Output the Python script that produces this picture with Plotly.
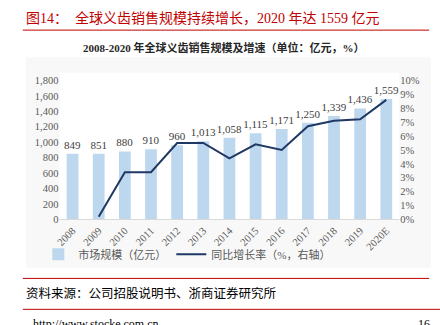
import plotly.graph_objects as go

years = ["2008", "2009", "2010", "2011", "2012", "2013", "2014", "2015",
         "2016", "2017", "2018", "2019", "2020E"]
market_size = [849, 851, 880, 910, 960, 1013, 1058, 1115, 1171, 1250, 1339, 1436, 1559]
growth_years = years[1:]
growth_pct = [0.2, 3.4, 3.4, 5.5, 5.5, 4.4, 5.4, 5.0, 6.7, 7.1, 7.2, 8.6]

W, H = 440, 325
SERIF = "Liberation Serif, Noto Sans CJK SC"
CJK = "Noto Sans CJK SC"

def px(x):
    return x / W

def py(y):
    return 1 - y / H

fig = go.Figure()
fig.add_trace(go.Bar(
    x=years, y=market_size, name="市场规模（亿元）",
    marker=dict(color="#BDD7EE", line=dict(width=0)),
    texttemplate="%{y:,}", textposition="outside", cliponaxis=False,
    constraintext="none",
    textfont=dict(family=SERIF, size=11, color="#404040"),
))
fig.add_trace(go.Scatter(
    x=growth_years, y=growth_pct, name="同比增长率（%，右轴）", yaxis="y2",
    mode="lines", line=dict(color="#203864", width=2),
))

fig.update_layout(
    width=W, height=H, margin=dict(l=0, r=0, t=0, b=0),
    paper_bgcolor="white", plot_bgcolor="white",
    bargap=0.55,
    showlegend=True,
    legend=dict(orientation="h", x=px(185), xanchor="center", y=py(258), yanchor="middle",
                font=dict(family=SERIF, size=11, color="#595959"),
                bgcolor="rgba(0,0,0,0)", itemwidth=30, tracegroupgap=0),
    xaxis=dict(domain=[px(56), px(399)], tickangle=-45, showgrid=False,
               showline=True, linecolor="#d9d9d9", linewidth=1, ticks="",
               tickfont=dict(family=SERIF, size=10.5, color="#595959")),
    yaxis=dict(domain=[py(222), py(78)], range=[0, 1800], dtick=200, tickformat=",",
               showgrid=False, zeroline=False, showline=False,
               tickfont=dict(family=SERIF, size=10.5, color="#595959")),
    yaxis2=dict(overlaying="y", side="right", range=[0, 10], dtick=1, ticksuffix="%",
                showgrid=False, zeroline=False, showline=False, anchor="x",
                tickfont=dict(family=SERIF, size=10.5, color="#595959")),
)

shapes = [
    dict(type="rect", xref="paper", yref="paper", x0=px(22), x1=px(431), y0=py(272), y1=py(54),
         fillcolor="#f8f8f8", line=dict(width=0), layer="below"),
    dict(type="rect", xref="paper", yref="paper", x0=px(56), x1=px(399), y0=py(222), y1=py(70),
         fillcolor="white", line=dict(width=0), layer="below"),
    dict(type="line", xref="paper", yref="paper", x0=px(19), x1=px(429), y0=py(26), y1=py(26),
         line=dict(color="#C00000", width=1)),
    dict(type="line", xref="paper", yref="paper", x0=px(19), x1=px(429), y0=py(283), y1=py(283),
         line=dict(color="#C00000", width=1)),
    dict(type="line", xref="paper", yref="paper", x0=px(19), x1=px(440), y0=py(315), y1=py(315),
         line=dict(color="#C00000", width=1)),
]
fig.update_layout(shapes=shapes)

def note(text, x, y, xanchor, size, color, family=SERIF):
    return dict(text=text, x=px(x), y=py(y), xref="paper", yref="paper",
                xanchor=xanchor, yanchor="middle", showarrow=False,
                font=dict(family=family, size=size, color=color))

annotations = [
    note("图14：  全球义齿销售规模持续增长，2020 年达 1559 亿元", 20, 13, "left", 14, "#C00000"),
    note("<b>2008-2020 年全球义齿销售规模及增速（单位：亿元，%）</b>", 222, 44, "center", 11, "#262626"),
    note("资料来源：公司招股说明书、浙商证券研究所", 20, 298, "left", 12.5, "#000000", CJK),
    note("http://www.stocke.com.cn", 27, 330, "left", 12, "#000000"),
    note("16", 432, 330, "right", 12, "#000000"),
]
fig.update_layout(annotations=annotations)

fig.write_html("out.html")
